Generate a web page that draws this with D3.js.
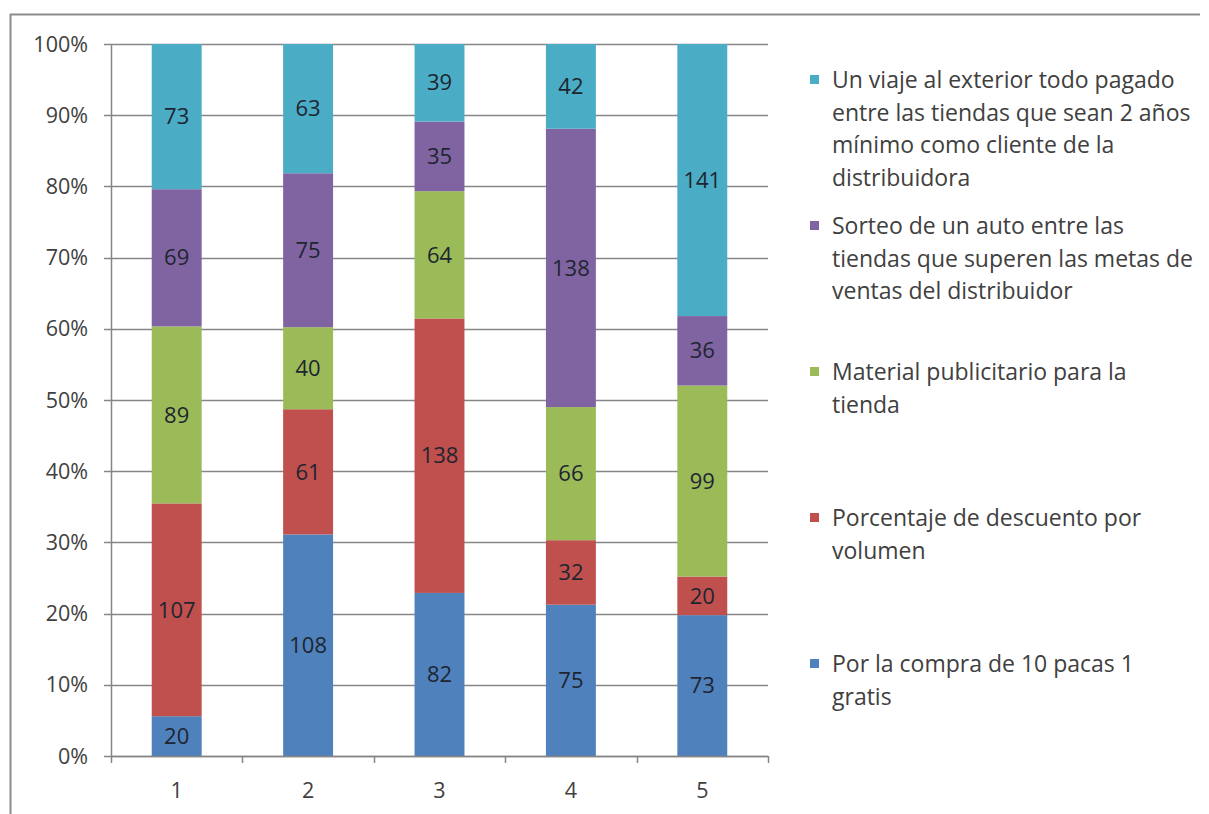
<!DOCTYPE html>
<html>
<head>
<meta charset="utf-8">
<script src="https://cdn.jsdelivr.net/npm/d3@7"></script>
<style>
  html, body { margin: 0; padding: 0; background: #fff; }
  svg { display: block; }
  text { font-family: "Open Sans", "Liberation Sans", sans-serif; }
</style>
</head>
<body>
<svg id="chart" width="1209" height="814"></svg>
<script>
// Categories (groups along the x axis)
const categories = ["1", "2", "3", "4", "5"];

// Series, stacked from the bottom up
const seriesNames = [
  "Por la compra de 10 pacas 1 gratis",
  "Porcentaje de descuento por volumen",
  "Material publicitario para la tienda",
  "Sorteo de un auto entre las tiendas que superen las metas de ventas del distribuidor",
  "Un viaje al exterior todo pagado entre las tiendas que sean 2 años mínimo como cliente de la distribuidora"
];
const compraValues     = [20, 108, 82, 75, 73];
const descuentoValues  = [107, 61, 138, 32, 20];
const materialValues   = [89, 40, 64, 66, 99];
const sorteoValues     = [69, 75, 35, 138, 36];
const viajeValues      = [73, 63, 39, 42, 141];

// Legend text, split into lines as it is wrapped
const legendLines = [
  ["Un viaje al exterior todo pagado", "entre las tiendas que sean 2 años", "mínimo como cliente de la", "distribuidora"],
  ["Sorteo de un auto entre las", "tiendas que superen las metas de", "ventas del distribuidor"],
  ["Material publicitario para la", "tienda"],
  ["Porcentaje de descuento por", "volumen"],
  ["Por la compra de 10 pacas 1", "gratis"]
];

const yTicks = [0, 0.1, 0.2, 0.3, 0.4, 0.5, 0.6, 0.7, 0.8, 0.9, 1.0];

const colors = ["#4F81BD", "#C0504D", "#9BBB59", "#8064A2", "#4BACC6"];
const seriesValues = [compraValues, descuentoValues, materialValues, sorteoValues, viajeValues];

const svg = d3.select("#chart");

// Outer chart frame (top and left edges fall inside the view)
svg.append("line")
  .attr("x1", 10).attr("x2", 1200).attr("y1", 14.5).attr("y2", 14.5)
  .attr("stroke", "#8c8c8c").attr("stroke-width", 2);
svg.append("line")
  .attr("x1", 10.5).attr("x2", 10.5).attr("y1", 14).attr("y2", 814)
  .attr("stroke", "#8c8c8c").attr("stroke-width", 2);

const plot = { left: 111, right: 768, top: 44, bottom: 756 };

const x = d3.scaleBand()
  .domain(categories)
  .range([plot.left, plot.right])
  .paddingInner(0.62)
  .paddingOuter(0.31);

const y = d3.scaleLinear().domain([0, 1]).range([plot.bottom, plot.top]);

// Build rows and normalise each column to 100%
const rows = categories.map((c, i) => {
  const r = { cat: c };
  seriesNames.forEach((s, k) => { r[s] = seriesValues[k][i]; });
  return r;
});
const stack = d3.stack().keys(seriesNames).offset(d3.stackOffsetExpand);
const stacked = stack(rows);

// Gridlines
const g = svg.append("g");
g.selectAll("line.grid")
  .data(yTicks)
  .join("line")
  .attr("x1", plot.left - 7).attr("x2", plot.right)
  .attr("y1", d => Math.round(y(d)) + 0.5).attr("y2", d => Math.round(y(d)) + 0.5)
  .attr("stroke", "#868686").attr("stroke-width", 1.5);

// Y axis labels
g.selectAll("text.ylab")
  .data(yTicks)
  .join("text")
  .attr("x", 88).attr("y", d => y(d))
  .attr("dy", "0.35em")
  .attr("text-anchor", "end")
  .attr("font-size", 21.5)
  .attr("fill", "#404040")
  .text(d => d3.format(".0%")(d));

// Bars
const layer = svg.append("g").selectAll("g.series")
  .data(stacked)
  .join("g")
  .attr("fill", (d, i) => colors[i]);

layer.selectAll("rect")
  .data(d => d.map(p => ({ p, key: d.key })))
  .join("rect")
  .attr("x", d => x(d.p.data.cat))
  .attr("width", x.bandwidth())
  .attr("y", d => y(d.p[1]))
  .attr("height", d => y(d.p[0]) - y(d.p[1]));

// Value labels at the centre of each segment
layer.selectAll("text")
  .data(d => d.map(p => ({ p, key: d.key })))
  .join("text")
  .attr("x", d => x(d.p.data.cat) + x.bandwidth() / 2)
  .attr("y", d => y((d.p[0] + d.p[1]) / 2))
  .attr("dy", "0.35em")
  .attr("text-anchor", "middle")
  .attr("font-size", 22)
  .attr("fill", "#1e2530")
  .text(d => d.p.data[d.key]);

// Y axis line
svg.append("line")
  .attr("x1", plot.left + 0.5).attr("x2", plot.left + 0.5)
  .attr("y1", plot.top).attr("y2", plot.bottom)
  .attr("stroke", "#868686").attr("stroke-width", 1.5);

// X axis line and boundary ticks
svg.append("line")
  .attr("x1", plot.left).attr("x2", plot.right)
  .attr("y1", plot.bottom + 0.5).attr("y2", plot.bottom + 0.5)
  .attr("stroke", "#868686").attr("stroke-width", 1.5);

const boundaries = d3.range(categories.length + 1).map(i => plot.left + i * (plot.right - plot.left) / categories.length);
svg.selectAll("line.xtick")
  .data(boundaries)
  .join("line")
  .attr("x1", d => Math.round(d) + 0.5).attr("x2", d => Math.round(d) + 0.5)
  .attr("y1", plot.bottom).attr("y2", plot.bottom + 7)
  .attr("stroke", "#868686").attr("stroke-width", 1.5);

svg.selectAll("text.xlab")
  .data(categories)
  .join("text")
  .attr("x", d => x(d) + x.bandwidth() / 2)
  .attr("y", 790)
  .attr("dy", "0.35em")
  .attr("text-anchor", "middle")
  .attr("font-size", 21.5)
  .attr("fill", "#404040")
  .text(d => d);

// Legend (top entry is the top series)
const legendTop = [80, 226, 372, 518, 664];
const legendColors = [colors[4], colors[3], colors[2], colors[1], colors[0]];
const lineH = 32.5;
const leg = svg.append("g");
legendLines.forEach((lines, i) => {
  leg.append("rect")
    .attr("x", 810).attr("y", legendTop[i] - 5)
    .attr("width", 9).attr("height", 9)
    .attr("fill", legendColors[i]);
  const t = leg.append("text")
    .attr("x", 832).attr("y", legendTop[i])
    .attr("font-size", 23)
    .attr("fill", "#404040");
  lines.forEach((ln, j) => {
    t.append("tspan")
      .attr("x", 832)
      .attr("y", legendTop[i] + j * lineH)
      .attr("dy", "0.35em")
      .text(ln);
  });
});
</script>
</body>
</html>
